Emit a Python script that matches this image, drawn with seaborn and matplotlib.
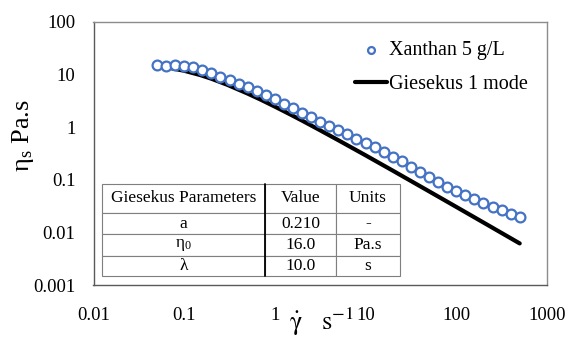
import matplotlib
matplotlib.use("Agg")
import matplotlib.pyplot as plt
import matplotlib.ticker as mticker
import pandas as pd
import seaborn as sns

# Measured steady-shear viscosity of xanthan 5 g/L
shear_rate = [0.0500, 0.0629, 0.0792, 0.0998, 0.126, 0.158, 0.199, 0.251, 0.316,
              0.398, 0.500, 0.629, 0.792, 0.998, 1.26, 1.58, 1.99, 2.51, 3.16,
              3.98, 5.00, 6.29, 7.92, 9.98, 12.6, 15.8, 19.9, 25.1, 31.6, 39.8,
              50.0, 62.9, 79.2, 99.8, 126, 158, 199, 251, 316, 398, 500]
viscosity = [15.1, 14.6, 15.0, 14.6, 13.6, 12.3, 10.7, 9.1, 7.8,
             6.7, 5.7, 4.8, 4.05, 3.38, 2.78, 2.27, 1.86, 1.52, 1.26,
             1.05, 0.88, 0.73, 0.60, 0.495, 0.41, 0.335, 0.275, 0.222, 0.172,
             0.138, 0.111, 0.089, 0.073, 0.060, 0.051, 0.0428, 0.0360, 0.0309,
             0.0266, 0.0225, 0.0192]

# One-mode Giesekus fit
fit_rate = [0.05, 0.07, 0.1, 0.15, 0.2, 0.3, 0.5, 0.7, 1, 1.5, 2, 3, 5,
            10, 20, 50, 100, 200, 500]
fit_visc = [14.3, 13.2, 11.7, 9.71, 8.25, 6.32, 4.32, 3.30, 2.44, 1.71, 1.32,
            0.908, 0.562, 0.290, 0.148, 0.0602, 0.0304, 0.0153, 0.00616]

# Fitted parameters
param_names = ["a", r"$\eta_0$", "λ"]
param_values = ["0.210", "16.0", "10.0"]
param_units = ["-", "Pa.s", "s"]
table_header = ["Giesekus Parameters", "Value", "Units"]

x_ticks = [0.01, 0.1, 1, 10, 100, 1000]
x_tick_labels = ["0.01", "0.1", "1", "10", "100", "1000"]
y_ticks = [0.001, 0.01, 0.1, 1, 10, 100]
y_tick_labels = ["0.001", "0.01", "0.1", "1", "10", "100"]

sns.set_style("white")
plt.rcParams["font.family"] = ["Liberation Serif", "DejaVu Serif"]
plt.rcParams["mathtext.default"] = "regular"
plt.rcParams["text.color"] = "black"
plt.rcParams["axes.labelcolor"] = "black"
plt.rcParams["xtick.color"] = "black"
plt.rcParams["ytick.color"] = "black"

data_df = pd.DataFrame({"rate": shear_rate, "eta": viscosity})
fit_df = pd.DataFrame({"rate": fit_rate, "eta": fit_visc})

fig = plt.figure(figsize=(5.68, 3.38), dpi=100)
ax = fig.add_axes([93.5 / 568, 1 - 285 / 338, 453.5 / 568, 263.3 / 338])

sns.lineplot(data=fit_df, x="rate", y="eta", ax=ax, color="black", lw=3.0,
             label="Giesekus 1 mode", zorder=2)
sns.scatterplot(data=data_df, x="rate", y="eta", ax=ax, marker="o",
                s=50, facecolor="white", edgecolor="#4472C4", linewidth=1.6,
                label="Xanthan 5 g/L", zorder=3)

ax.set_xscale("log")
ax.set_yscale("log")
ax.set_xlim(0.01, 1000)
ax.set_ylim(0.001, 100)
ax.set_xticks(x_ticks)
ax.set_xticklabels(x_tick_labels)
ax.set_yticks(y_ticks)
ax.set_yticklabels(y_tick_labels)
ax.xaxis.set_minor_locator(mticker.LogLocator(base=10, subs=range(2, 10)))
ax.yaxis.set_minor_locator(mticker.LogLocator(base=10, subs=range(2, 10)))
ax.xaxis.set_minor_formatter(mticker.NullFormatter())
ax.yaxis.set_minor_formatter(mticker.NullFormatter())
ax.tick_params(axis="both", which="major", direction="in", length=4.5,
               width=0.8, color="#595959", labelcolor="black", labelsize=13.5)
ax.tick_params(axis="both", which="minor", direction="in", length=2.5,
               width=0.7, color="#595959")
ax.tick_params(axis="x", which="major", pad=16)
ax.tick_params(axis="y", which="major", pad=13)
ax.tick_params(top=False, right=False, which="both")
for side in ["left", "bottom"]:
    ax.spines[side].set_color("#595959")
    ax.spines[side].set_linewidth(1.0)
for side in ["top", "right"]:
    ax.spines[side].set_color("#8c8c8c")
    ax.spines[side].set_linewidth(1.0)

xlab = ax.set_xlabel(r"$\dot{\gamma}$   s$^{-1}$", fontsize=19,
                     family="STIXGeneral")
xlab.set_va("baseline")
ax.xaxis.set_label_coords(0.502, -0.172)
ax.set_ylabel(r"$\eta_s$ Pa.s", fontsize=19)
ax.yaxis.set_label_coords(-0.127, 0.566)

handles, labels = ax.get_legend_handles_labels()
order = [labels.index("Xanthan 5 g/L"), labels.index("Giesekus 1 mode")]
leg = ax.legend([handles[i] for i in order], [labels[i] for i in order],
                loc="upper left", bbox_to_anchor=(0.555, 0.965), frameon=False,
                fontsize=14.5, handlelength=1.6, handletextpad=0.1,
                labelspacing=0.75, borderpad=0, markerscale=0.7)

# Parameter table
cell_text = [table_header] + [[n, v, u] for n, v, u in
                              zip(param_names, param_values, param_units)]
tbl = ax.table(cellText=cell_text, cellLoc="center",
               colWidths=[0.547, 0.238, 0.215],
               bbox=[0.0187, 0.034, 0.657, 0.350], zorder=5)
tbl.auto_set_font_size(False)
row_heights = [29, 22, 22, 20]
for (r, c), cell in tbl.get_celld().items():
    cell.set_height(row_heights[r])
    cell.set_edgecolor("#7f7f7f")
    cell.set_linewidth(0.8)
    cell.set_facecolor("white")
    cell.get_text().set_fontsize(12.5)
    cell.get_text().set_color("black")
# thicker divider after the first column
x_div = 0.0187 + 0.657 * 0.547
ax.plot([x_div, x_div], [0.034, 0.384], transform=ax.transAxes,
        color="black", lw=1.3, zorder=6, clip_on=False)

fig.savefig("out.png", dpi=100)
